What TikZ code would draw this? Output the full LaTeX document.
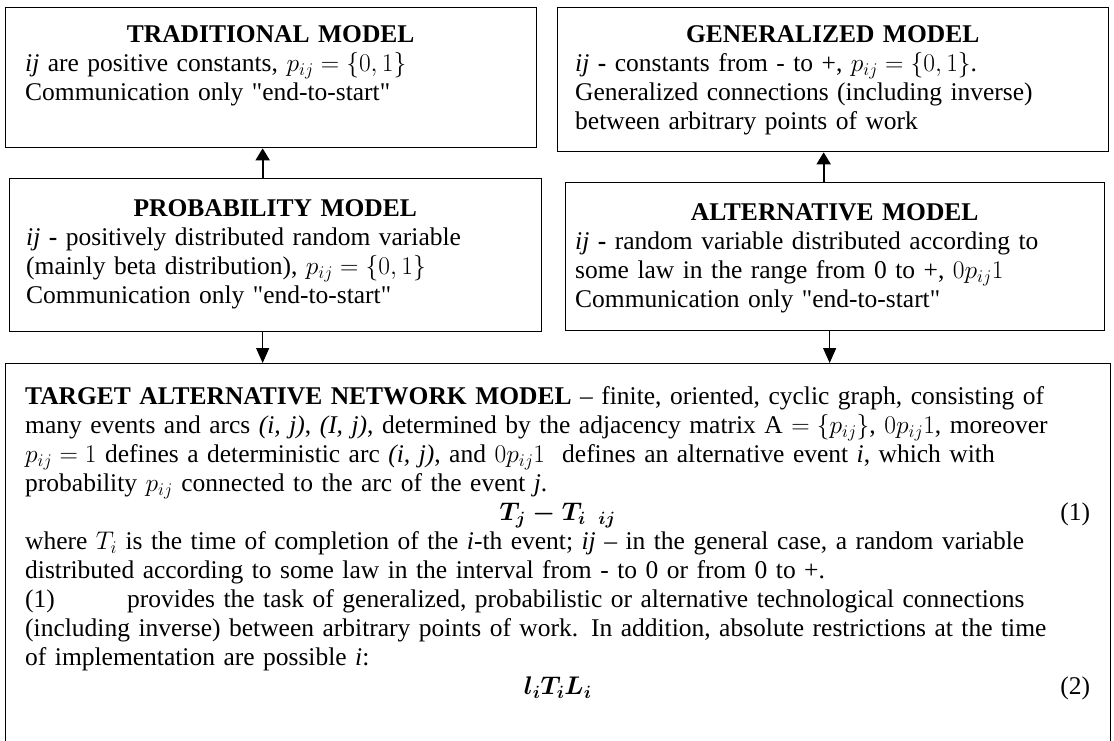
\RequirePackage{fix-cm}
\documentclass[tikz,border=0pt]{standalone}
\usepackage{fontspec}
\setmainfont{Liberation Serif}[Ligatures=TeXOff]
\usepackage{amsmath}
\usetikzlibrary{arrows.meta, positioning, calc}

\newcommand{\bodyfont}{\fontsize{25.5}{29}\selectfont}
\newcommand{\headfont}{\bfseries}

\tikzset{
  modelbox/.style={draw, line width=1.3pt, inner sep=0pt, anchor=north west},
  boxtext/.style={inner sep=0pt, anchor=north west, align=left,
    font={\setlength{\parindent}{0pt}\bodyfont}},
  uparrow/.style={line width=1.8pt, -{Triangle[width=14pt,length=12pt]}},
  downarrow/.style={line width=1.2pt, -{Triangle[width=13pt,length=15pt]}}
}

\begin{document}
\begin{tikzpicture}[x=1pt, y=-1pt]
    \useasboundingbox (0,0) rectangle (1114,740);
    \clip (0,0) rectangle (1114,740);

    % Boxes
    \node[modelbox, minimum width=531, minimum height=140] (trad) at (5,7) {};
    \node[modelbox, minimum width=551, minimum height=144] (gen) at (557,7) {};
    \node[modelbox, minimum width=532, minimum height=153] (prob) at (9,178) {};
    \node[modelbox, minimum width=539, minimum height=148] (alt) at (565,182) {};
    \node[modelbox, minimum width=1105, minimum height=420] (target) at (5,363) {};

    % Texts
    \node[boxtext, text width=491pt] (tradtxt) at ([shift={(20,18.5)}]trad.north west) {%
        {\centering\headfont TRADITIONAL MODEL\par}
        \textit{ij} are positive constants, $p_{ij}=\{0,1\}$\\
        Communication only "end-to-start"};
    \node[boxtext, text width=515pt] (gentxt) at ([shift={(18,18.5)}]gen.north west) {%
        {\centering\headfont GENERALIZED MODEL\par}
        \textit{ij} \textbf{-} constants from - to +, $p_{ij}=\{0,1\}$.\\
        Generalized connections (including inverse)\\
        between arbitrary points of work};
    \node[boxtext, text width=498pt] (probtxt) at ([shift={(17,21.5)}]prob.north west) {%
        {\centering\headfont PROBABILITY MODEL\par}
        \textit{ij} \textbf{-} positively distributed random variable\\
        (mainly beta distribution), $p_{ij}=\{0,1\}$\\
        Communication only "end-to-start"};
    \node[boxtext, text width=519pt] (alttxt) at ([shift={(10,21.5)}]alt.north west) {%
        {\centering\headfont ALTERNATIVE MODEL\par}
        \textit{ij} \textbf{-} random variable distributed according to\\
        some law in the range from 0 to +, $0p_{ij}1$\\
        Communication only "end-to-start"};
    \node[boxtext, text width=1065pt] (targettxt) at ([shift={(20,23.5)}]target.north west) {%
        \textbf{TARGET ALTERNATIVE NETWORK MODEL} – finite, oriented, cyclic graph, consisting of\\
        many events and arcs \textit{(i, j)}, \textit{(I, j)}, determined by the adjacency matrix A $=\left\{p_{ij}\right\}$, $0p_{ij}1$, moreover\\
        $p_{ij}=1$ defines a deterministic arc \textit{(i, j)}, and $0p_{ij}1$\ \ defines an alternative event \textit{i}, which with\\
        probability $p_{ij}$ connected to the arc of the event \textit{j}.\\
        \leavevmode\hfill$\boldsymbol{T_j - T_i}\ \,{}_{\boldsymbol{ij}}$\hfill\llap{(1)}\\
        where $T_i$ is the time of completion of the \textit{i}-th event; \textit{ij} – in the general case, a random variable\\
        distributed according to some law in the interval from - to 0 or from 0 to +.\\
        \makebox[102pt][l]{(1)}provides the task of generalized, probabilistic or alternative technological connections\\
        (including inverse) between arbitrary points of work. In addition, absolute restrictions at the time\\
        of implementation are possible \textit{i}:\\
        \leavevmode\hfill$\boldsymbol{l_iT_iL_i}$\hfill\llap{(2)}};

    % Arrows
    \coordinate (pa) at ([xshift=-13pt]prob.north);
    \coordinate (aa) at ([xshift=-11.5pt]alt.north);
    \coordinate (pb) at ([xshift=-13pt]prob.south);
    \coordinate (ab) at ([xshift=-5.5pt]alt.south);
    \draw[uparrow] (pa) -- (pa |- trad.south);
    \draw[uparrow] (aa) -- (aa |- gen.south);
    \draw[downarrow] (pb) -- (pb |- target.north);
    \draw[downarrow] (ab) -- (ab |- target.north);
\end{tikzpicture}
\end{document}
